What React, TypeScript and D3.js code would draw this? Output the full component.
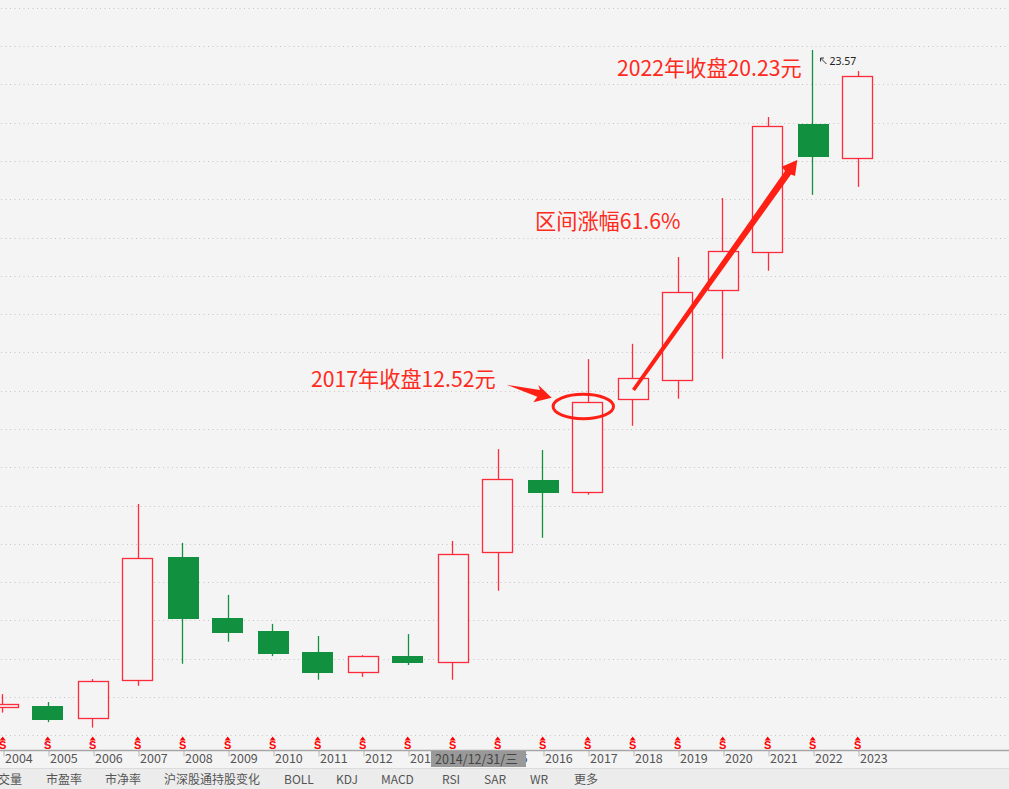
import * as d3 from 'd3';
import { useEffect, useRef } from 'react';

const years = ['2004', '2005', '2006', '2007', '2008', '2009', '2010', '2011', '2012', '2013', '2014', '2015', '2016', '2017', '2018', '2019', '2020', '2021', '2022', '2023'];
const opens = [2.95, 3.01, 2.62, 3.81, 7.68, 5.76, 5.36, 4.70, 4.05, 4.57, 4.38, 7.82, 10.09, 9.71, 12.62, 13.22, 16.04, 17.23, 21.25, 20.18];
const closes = [3.04, 2.57, 3.78, 7.64, 5.73, 5.29, 4.64, 4.04, 4.56, 4.35, 7.76, 10.11, 9.68, 12.52, 13.28, 15.98, 17.26, 21.18, 20.23, 22.75];
const highs = [3.38, 3.13, 3.85, 9.34, 8.12, 6.49, 5.58, 5.20, 4.60, 5.26, 8.18, 11.06, 11.03, 13.88, 14.36, 17.08, 18.93, 21.47, 23.57, 22.91];
const lows = [2.80, 2.50, 2.33, 3.64, 4.33, 5.02, 4.57, 3.83, 3.92, 4.29, 3.83, 6.62, 8.28, 9.63, 11.79, 12.64, 13.89, 16.65, 19.03, 19.28];
const gridValues = [2.09, 3.29, 4.49, 5.69, 6.89, 8.09, 9.29, 10.49, 11.69, 12.89, 14.09, 15.29, 16.49, 17.69, 18.89, 20.09, 21.29, 22.49, 23.69, 24.89];
const dotYears = ['2005', '2006'];
const tabs = ['成交量', '市盈率', '市净率', '沪深股通持股变化', 'BOLL', 'KDJ', 'MACD', 'RSI', 'SAR', 'WR', '更多'];
const tabX = [-14, 46, 105, 164, 284, 336, 381, 442, 484, 530, 574];

const RED = '#ff2b3b';
const GREEN = '#11913f';
const INK = '#ff2015';
const ZH = '"Noto Sans CJK SC", "Noto Sans", sans-serif';

const drawChart = (container: HTMLElement) => {
  const width = 1009;
  const height = 789;
  const axisY = 750.5;
  const stripY = 768.5;

  const x = d3.scalePoint<string>().domain(years).range([2.5, 857.5]);
  const y = d3.scaleLinear().domain([0, 25]).range([801.9, 4.4]);

  const svg = d3.select(container).append('svg')
    .attr('width', width)
    .attr('height', height)
    .attr('viewBox', `0 0 ${width} ${height}`)
    .style('position', 'absolute')
    .style('left', 0)
    .style('top', 0)
    .style('display', 'block')
    .style('background', '#f4f4f4');

  svg.append('g').selectAll('line').data(gridValues).join('line')
    .attr('x1', 1)
    .attr('x2', width)
    .attr('y1', d => Math.round(y(d)) + 0.5)
    .attr('y2', d => Math.round(y(d)) + 0.5)
    .attr('stroke', '#c6c6c6')
    .attr('stroke-width', 1)
    .attr('stroke-dasharray', '1 3.5');

  // candles, the source chart snaps odd and even bars by one pixel
  const wickX = (i: number) => x(years[i])! + (i % 2 ? 1 : 0);
  const bodyX = (i: number) => x(years[i])! + (i % 2 ? 0 : 1);
  const isUp = (i: number) => closes[i] >= opens[i];
  const idx = d3.range(years.length);
  // hollow bodies sit on half pixels so the outline stays crisp
  const snap = (v: number, up: boolean) => up ? Math.floor(y(v)) + 0.5 : Math.round(y(v));

  const candles = svg.append('g');
  candles.selectAll('line').data(idx).join('line')
    .attr('x1', wickX)
    .attr('x2', wickX)
    .attr('y1', i => y(highs[i]))
    .attr('y2', i => y(lows[i]))
    .attr('stroke', i => isUp(i) ? RED : GREEN)
    .attr('stroke-width', 1.3);

  candles.selectAll('rect').data(idx).join('rect')
    .attr('x', i => bodyX(i) - (isUp(i) ? 15 : 15.5))
    .attr('width', i => isUp(i) ? 30 : 31)
    .attr('y', i => snap(Math.max(opens[i], closes[i]), isUp(i)))
    .attr('height', i => snap(Math.min(opens[i], closes[i]), isUp(i)) - snap(Math.max(opens[i], closes[i]), isUp(i)))
    .attr('fill', i => isUp(i) ? '#f4f4f4' : GREEN)
    .attr('stroke', i => isUp(i) ? RED : 'none')
    .attr('stroke-width', 1.3);

  // S markers above the axis
  const marks = svg.append('g').selectAll('g').data(years).join('g')
    .attr('transform', d => `translate(${x(d)! + 0.2},0)`);
  marks.append('path')
    .attr('d', 'M0,736.5L3,740.5L-3,740.5Z')
    .attr('fill', '#ff0000');
  marks.append('text')
    .attr('y', 748.5)
    .attr('text-anchor', 'middle')
    .attr('font-family', '"Liberation Sans", sans-serif')
    .attr('font-weight', 700)
    .attr('font-size', 11)
    .attr('fill', '#ff0000')
    .text('S');
  svg.append('g').selectAll('circle').data(dotYears).join('circle')
    .attr('cx', d => x(d)! - 1.7)
    .attr('cy', 744)
    .attr('r', 1.2)
    .attr('fill', '#e0208a');

  // time axis and tab strip
  svg.append('rect')
    .attr('x', 0).attr('y', stripY).attr('width', width).attr('height', height - stripY)
    .attr('fill', '#ececec');
  svg.append('line')
    .attr('x1', 0).attr('x2', width).attr('y1', stripY).attr('y2', stripY)
    .attr('stroke', '#dcdcdc');

  const axis = svg.append('g')
    .attr('transform', `translate(1,${axisY})`)
    .call(d3.axisBottom(x).tickSize(6).tickSizeOuter(0).tickPadding(3));
  axis.select('.domain').remove();
  axis.selectAll('.tick line').attr('stroke', '#b8b8b8');
  axis.selectAll('.tick text')
    .attr('x', 1)
    .attr('y', 4)
    .attr('text-anchor', 'start')
    .attr('font-family', ZH)
    .attr('font-size', 12.5)
    .attr('fill', '#555');

  svg.append('line')
    .attr('x1', 0).attr('x2', width).attr('y1', axisY).attr('y2', axisY)
    .attr('stroke', '#a6a6a6')
    .attr('stroke-width', 1.5);

  // crosshair date box
  svg.append('rect')
    .attr('x', 431).attr('y', 751).attr('width', 95).attr('height', 16)
    .attr('fill', '#999999');
  svg.append('text')
    .attr('x', 435).attr('y', 764)
    .attr('font-family', ZH)
    .attr('font-size', 12.5)
    .attr('fill', '#444')
    .text('2014/12/31/三');

  svg.append('g').selectAll('text').data(tabs).join('text')
    .attr('x', (_, i) => tabX[i])
    .attr('y', 784)
    .attr('font-family', ZH)
    .attr('font-size', 12)
    .attr('fill', '#555')
    .text(d => d);

  // high label
  const hi = years.indexOf('2022');
  const hiY = y(highs[hi]);
  svg.append('path')
    .attr('d', `M${wickX(hi) + 8},${hiY + 8}l6,6M${wickX(hi) + 8},${hiY + 8}h3.5M${wickX(hi) + 8},${hiY + 8}v3.5`)
    .attr('fill', 'none')
    .attr('stroke', '#333')
    .attr('stroke-width', 1);
  svg.append('text')
    .attr('x', wickX(hi) + 17)
    .attr('y', hiY + 14.5)
    .attr('font-family', '"Noto Sans", sans-serif')
    .attr('font-size', 10.5)
    .attr('fill', '#222')
    .text(d3.format('.2f')(highs[hi]));

  // notes drawn on top of the chart
  const notes: [string, number, number][] = [
    ['2022年收盘20.23元', 617, 76],
    ['区间涨幅61.6%', 535, 229],
    ['2017年收盘12.52元', 311, 387],
  ];
  svg.append('g').selectAll('text').data(notes).join('text')
    .attr('x', d => d[1])
    .attr('y', d => d[2])
    .attr('font-family', ZH)
    .attr('font-size', 21.2)
    .attr('fill', '#ff2a20')
    .text(d => d[0]);

  const arrows = [
    'M506.7,384.7L540,390L538.3,385L551.7,397.7L533.3,402.3L537.3,396.7Z',
    'M632,389L785,171L781.7,166.7L797.3,160L795,176L791,174.5L635,391Z',
  ];
  svg.append('g').selectAll('path').data(arrows).join('path')
    .attr('d', d => d)
    .attr('fill', INK);

  svg.append('ellipse')
    .attr('cx', 583.3).attr('cy', 406.5).attr('rx', 30.2).attr('ry', 12.2)
    .attr('fill', 'none')
    .attr('stroke', INK)
    .attr('stroke-width', 3);

  return svg.node();
};

export default function App() {
  const domRef = useRef<HTMLDivElement>(null);
  useEffect(() => {
    if (domRef.current) {
      drawChart(domRef.current);
    }
    return () => {
      d3.select(domRef.current).selectAll('svg').remove();
    };
  }, [domRef]);
  return <div ref={domRef}></div>;
}
